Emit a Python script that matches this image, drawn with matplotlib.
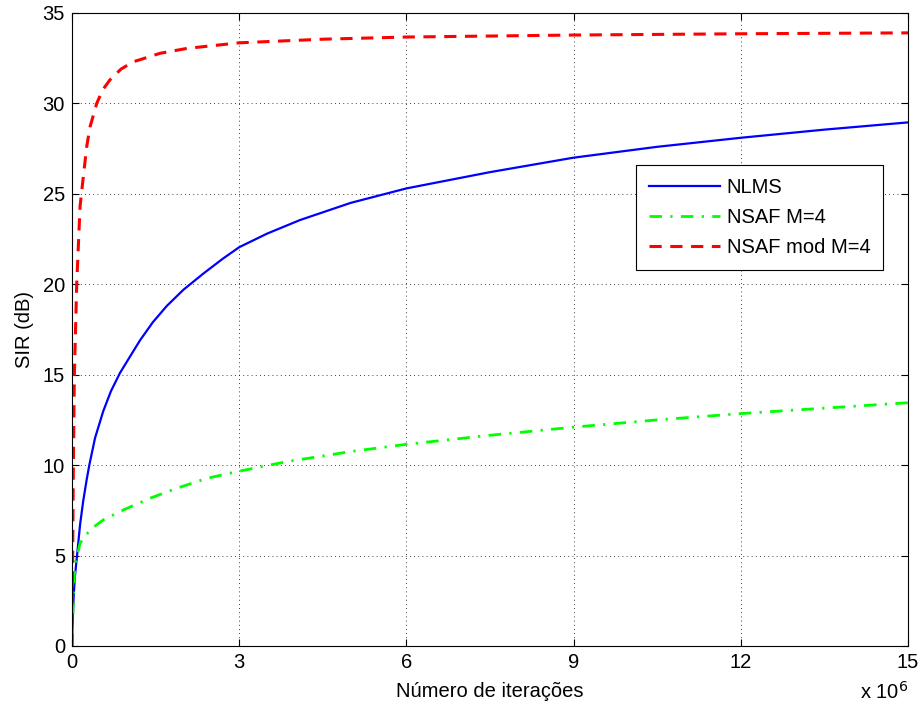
import matplotlib.pyplot as plt

plt.rcParams['font.family'] = ['Liberation Sans', 'DejaVu Sans']

# iterations in units of 1e6, SIR in dB
iters_nlms = [0, 0.01, 0.03, 0.054, 0.09, 0.144, 0.2, 0.263, 0.31, 0.413, 0.562, 0.7, 0.861, 1.04,
              1.22, 1.45, 1.70, 2.0, 2.36, 2.7, 3.0, 3.5, 4.09, 5.0, 6.0, 7.5, 9.0, 10.5, 12.0,
              13.5, 15.0]
sir_nlms = [0, 1.3, 2.8, 3.9, 5.0, 6.7, 8.0, 9.2, 10.0, 11.5, 13.0, 14.1, 15.1, 16.0,
            16.9, 17.9, 18.8, 19.7, 20.6, 21.4, 22.05, 22.8, 23.55, 24.5, 25.3, 26.2, 27.0, 27.6, 28.1,
            28.55, 28.95]

iters_nsaf = [0, 0.01, 0.025, 0.054, 0.095, 0.144, 0.25, 0.4, 0.56, 0.92, 1.40, 1.88, 2.42,
              2.96, 3.85, 5.0, 6.0, 7.5, 9.0, 10.5, 12.0, 13.5, 15.0]
sir_nsaf = [0, 1.2, 2.8, 4.57, 5.0, 5.68, 6.15, 6.6, 6.97, 7.52, 8.17, 8.72, 9.27,
            9.64, 10.19, 10.75, 11.15, 11.65, 12.1, 12.5, 12.85, 13.15, 13.45]

iters_mod = [0, 0.005, 0.012, 0.024, 0.042, 0.084, 0.144, 0.203, 0.263, 0.323, 0.443, 0.55,
             0.68, 0.88, 1.10, 1.58, 2.06, 3.0, 4.5, 6.0, 9.0, 12.0, 15.0]
sir_mod = [0, 3.0, 5.0, 10.0, 15.0, 20.0, 24.3, 25.95, 27.6, 28.7, 30.0, 30.75,
           31.3, 31.9, 32.3, 32.77, 33.04, 33.35, 33.55, 33.67, 33.78, 33.85, 33.9]

fig = plt.figure(figsize=(9.21, 7.13), dpi=100)
ax = fig.add_axes([0.0782, 0.094, 0.9077, 0.8878])

ax.plot(iters_nlms, sir_nlms, color=(0, 0, 1), lw=1.6, label='NLMS')
ax.plot(iters_nsaf, sir_nsaf, color=(0, 1, 0), lw=2.0, dashes=(4.5, 3.0, 0.8, 3.0), label='NSAF M=4')
ax.plot(iters_mod, sir_mod, color=(1, 0, 0), lw=2.2, dashes=(4.0, 2.8), label='NSAF mod M=4')

ax.set_xlim(0, 15)
ax.set_ylim(0, 35)
ax.set_xticks([0, 3, 6, 9, 12, 15])
ax.set_yticks(range(0, 36, 5))
ax.tick_params(direction='in', top=True, right=True, labelsize=14.5, length=5, width=0.8, pad=5)
ax.grid(True, color='black', linestyle=(0, (1, 4)), linewidth=0.6)
for s in ax.spines.values():
    s.set_linewidth(0.8)

ax.set_xlabel('Número de iterações', fontsize=14.5, labelpad=7)
ax.set_ylabel('SIR (dB)', fontsize=14.5, labelpad=6)
ax.text(1.0, -0.055, r'x 10$^{6}$', transform=ax.transAxes, ha='right', va='top', fontsize=14.5)

leg = ax.legend(loc='upper left', bbox_to_anchor=(0.6746, 0.760), fontsize=14.5, handlelength=3.5,
                handletextpad=0.35, labelspacing=0.55, borderpad=0.65, borderaxespad=0,
                fancybox=False, framealpha=1, edgecolor='black')
leg.get_frame().set_linewidth(0.8)

fig.savefig('out.png', dpi=100)
